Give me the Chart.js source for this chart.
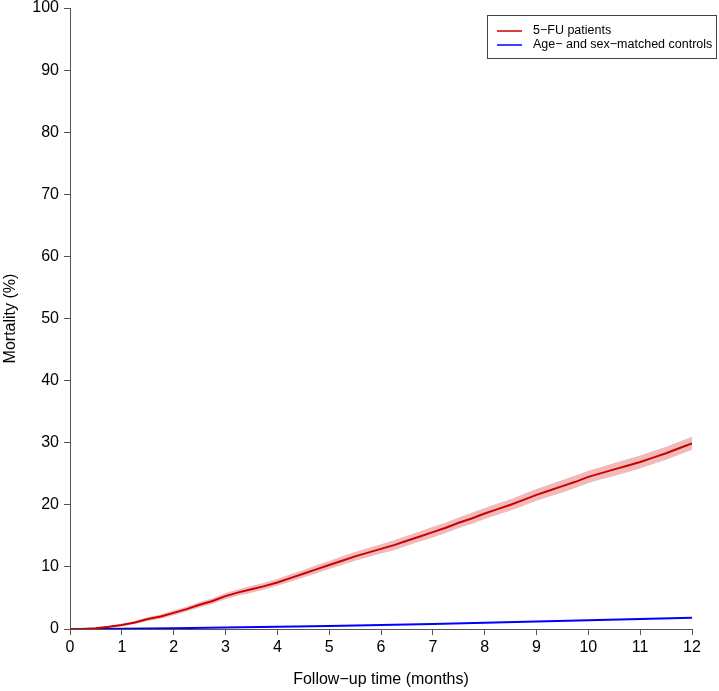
<!DOCTYPE html>
<html>
<head>
    <script src="https://cdn.jsdelivr.net/npm/chart.js@4.4.1/dist/chart.umd.min.js"></script>
    <style>
        body { margin: 0; background: #fff; }
        #wrap { width: 719px; height: 691px; }
    </style>
</head>
<body>
    <div id="wrap"><canvas id="mortalityChart" width="719" height="691"></canvas></div>

    <script>
        // follow-up time in months (0.25 steps) for the 5-FU curve
        const months = [0, 0.25, 0.5, 0.75, 1, 1.25, 1.5, 1.75, 2, 2.25, 2.5, 2.75, 3, 3.25, 3.5, 3.75, 4,
            4.25, 4.5, 4.75, 5, 5.25, 5.5, 5.75, 6, 6.25, 6.5, 6.75, 7, 7.25, 7.5, 7.75, 8,
            8.25, 8.5, 8.75, 9, 9.25, 9.5, 9.75, 10, 10.25, 10.5, 10.75, 11, 11.25, 11.5, 11.75, 12];

        const fuMortality = [0, 0.02, 0.12, 0.35, 0.65, 1.05, 1.6, 2.0, 2.6, 3.2, 3.9, 4.5, 5.3, 5.9, 6.4, 6.9, 7.5,
            8.2, 8.9, 9.6, 10.3, 11.0, 11.7, 12.3, 12.9, 13.5, 14.2, 14.9, 15.6, 16.3, 17.1, 17.8, 18.6,
            19.3, 20.0, 20.8, 21.6, 22.3, 23.0, 23.7, 24.5, 25.1, 25.7, 26.3, 26.9, 27.6, 28.3, 29.1, 29.9];
        const fuUpper = [0, 0.04, 0.2, 0.5, 0.85, 1.3, 1.9, 2.35, 3.0, 3.6, 4.35, 4.95, 5.8, 6.4, 6.95, 7.45, 8.05,
            8.8, 9.5, 10.25, 10.95, 11.7, 12.4, 13.05, 13.65, 14.3, 15.0, 15.7, 16.45, 17.15, 17.95, 18.7, 19.5,
            20.2, 20.9, 21.75, 22.55, 23.25, 24.0, 24.7, 25.5, 26.1, 26.75, 27.35, 27.95, 28.65, 29.35, 30.15, 30.95];
        const fuLower = [0, 0.0, 0.04, 0.2, 0.45, 0.8, 1.3, 1.65, 2.2, 2.8, 3.45, 4.05, 4.8, 5.4, 5.85, 6.35, 6.95,
            7.6, 8.3, 8.95, 9.65, 10.3, 11.0, 11.55, 12.15, 12.7, 13.4, 14.1, 14.75, 15.45, 16.25, 16.9, 17.7,
            18.4, 19.1, 19.85, 20.65, 21.35, 22.0, 22.7, 23.5, 24.1, 24.65, 25.25, 25.85, 26.55, 27.25, 28.05, 28.85];

        // controls, monthly
        const controlMonths = [0, 1, 2, 3, 4, 5, 6, 7, 8, 9, 10, 11, 12];
        const controlMortality = [0, 0.05, 0.12, 0.25, 0.38, 0.5, 0.65, 0.8, 1.0, 1.2, 1.4, 1.6, 1.8];

        const seriesLabels = ['5\u2212FU patients', 'Age\u2212 and sex\u2212matched controls'];
        const xTitle = 'Follow\u2212up time (months)';
        const yTitle = 'Mortality (%)';

        const toPoints = (xs, ys) => xs.map((x, i) => ({ x: x, y: ys[i] }));

        const axisColor = '#555555';
        const fontFamily = '"Liberation Sans", Arial, sans-serif';

        // R-style boxed legend drawn in the top right corner
        const boxLegend = {
            id: 'boxLegend',
            afterDraw(chart) {
                const ctx = chart.ctx;
                const items = [
                    { text: seriesLabels[0], color: '#CD0000' },
                    { text: seriesLabels[1], color: '#0000FF' }
                ];
                ctx.save();
                ctx.strokeStyle = '#444';
                ctx.lineWidth = 1;
                ctx.strokeRect(487.5, 15.5, 229, 43);
                ctx.font = '12.5px ' + fontFamily;
                ctx.textBaseline = 'middle';
                ctx.fillStyle = '#000';
                items.forEach((item, i) => {
                    const y = 31 + i * 14;
                    ctx.strokeStyle = item.color;
                    ctx.lineWidth = 1.5;
                    ctx.beginPath();
                    ctx.moveTo(497, y);
                    ctx.lineTo(522, y);
                    ctx.stroke();
                    ctx.fillText(item.text, 533, y);
                });
                ctx.restore();
            }
        };

        const ctx = document.getElementById('mortalityChart').getContext('2d');
        new Chart(ctx, {
            type: 'line',
            data: {
                datasets: [
                    {
                        label: 'upper',
                        data: toPoints(months, fuUpper),
                        borderWidth: 0,
                        pointRadius: 0,
                        backgroundColor: 'rgba(205, 0, 0, 0.27)',
                        fill: '+1',
                        order: 3
                    },
                    {
                        label: 'lower',
                        data: toPoints(months, fuLower),
                        borderWidth: 0,
                        pointRadius: 0,
                        fill: false,
                        order: 3
                    },
                    {
                        label: seriesLabels[0],
                        data: toPoints(months, fuMortality),
                        borderColor: '#CD0000',
                        borderWidth: 2,
                        pointRadius: 0,
                        fill: false,
                        order: 1
                    },
                    {
                        label: seriesLabels[1],
                        data: toPoints(controlMonths, controlMortality),
                        borderColor: '#0000FF',
                        borderWidth: 2,
                        pointRadius: 0,
                        fill: false,
                        order: 2
                    }
                ]
            },
            options: {
                responsive: false,
                animation: false,
                layout: { padding: { top: 8, right: 27, left: 0, bottom: 0 } },
                plugins: {
                    legend: { display: false },
                    tooltip: { enabled: false }
                },
                scales: {
                    x: {
                        type: 'linear',
                        min: 0,
                        max: 12,
                        ticks: {
                            stepSize: 1,
                            color: '#000',
                            padding: 3,
                            maxRotation: 0,
                            font: { size: 16, family: fontFamily }
                        },
                        grid: { drawOnChartArea: false, tickLength: 6, color: axisColor },
                        border: { color: axisColor, width: 1 },
                        title: {
                            display: true,
                            text: xTitle,
                            color: '#000',
                            padding: { top: 4, bottom: 2 },
                            font: { size: 16, family: fontFamily }
                        },
                        afterFit(axis) { axis.height = 62; }
                    },
                    y: {
                        min: 0,
                        max: 100,
                        ticks: {
                            stepSize: 10,
                            color: '#000',
                            padding: 5,
                            font: { size: 16, family: fontFamily }
                        },
                        grid: { drawOnChartArea: false, tickLength: 6, color: axisColor },
                        border: { color: axisColor, width: 1 },
                        title: {
                            display: true,
                            text: yTitle,
                            color: '#000',
                            padding: 1,
                            font: { size: 16, family: fontFamily }
                        },
                        afterFit(axis) {
                            axis.width = 70;
                            axis.paddingTop = 0;
                            axis.paddingBottom = 0;
                        }
                    }
                }
            },
            plugins: [boxLegend]
        });
    </script>
</body>
</html>
